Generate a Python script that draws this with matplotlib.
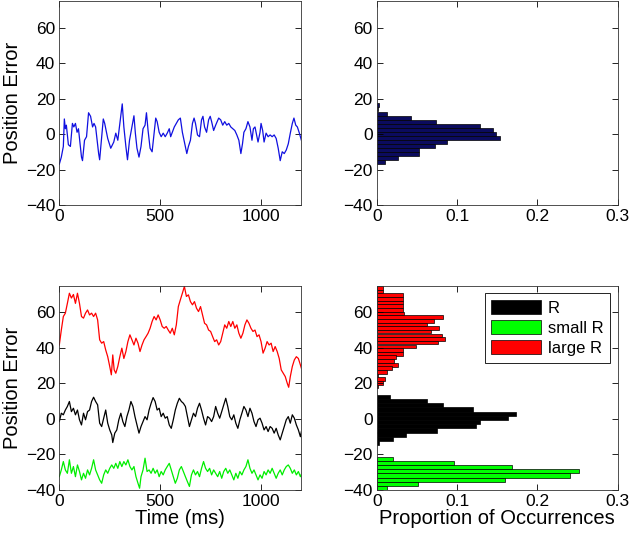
import numpy as np
import matplotlib
matplotlib.use('Agg')
import matplotlib.pyplot as plt
from matplotlib.patches import Patch

plt.rcParams['font.family'] = ['Liberation Sans', 'DejaVu Sans']

# ---- top row: single trace and its histogram ----
blue_t = [0, 10, 20, 25, 30, 35, 45, 55, 65, 72, 80, 88, 95, 110, 115, 125, 135, 145, 155, 165,
          172, 180, 195, 200, 210, 218, 225, 240, 255, 270, 280, 290, 300, 312, 320, 330, 338, 348,
          360, 370, 377, 385, 395, 405, 415, 425, 432, 440, 450, 460, 470, 478, 485, 495, 505, 515,
          525, 535, 545, 552, 560, 570, 580, 590, 600, 610, 625, 632, 640, 650, 660, 668, 675, 685,
          695, 705, 712, 720, 730, 740, 748, 755, 765, 775, 790, 800, 810, 820, 830, 840, 850, 860,
          870, 880, 890, 900, 908, 915, 925, 935, 945, 955, 962, 970, 978, 985, 995, 1000, 1008,
          1015, 1025, 1035, 1045, 1055, 1065, 1075, 1085, 1095, 1105, 1115, 1125, 1135, 1145, 1155,
          1163, 1172, 1180, 1190, 1200]
blue_y = [-17, -13, -7, 8.5, 3, 5, -6, -7, 6, 4, 6, 1, 3, -13, -15, -3.5, -1.5, 12, 10, 4,
          6, 4, -11, -14.5, -1.5, 8.5, 6, -2.5, -8, -4.5, 0.5, -3.5, 6, 17, 4, -7, -14.5, -3.5,
          4, 10.3, 0.5, -8, -13, -7, 3, 5, 12, 2, -8, -10, 0.5, 9, 7, 1, -1.5, 0.5,
          -1.5, 0.5, 3, -1.5, 1, 4, 6, 8, 9, 1, -7, -11, -7, -3.5, 6, 9, 6, -0.5,
          -1.5, 8, 10, 4, 1, 8, 10, 7, 2, 5, 9, 8, 5, 7, 5, 6, 4, 3,
          2, -0.5, -3.5, -11, -5.5, 1, 3, 7, 4, -3.5, 3, 4, -0.5, -4.5, 1, 6, 2,
          -4.5, 0.5, -1.5, -0.5, -1.5, -0.5, -2.5, -8, -15, -10, -11, -9, -5.5, 0.5, 6,
          9, 5, 4, 0.5, -3.5]

navy_centers = [16.2, 14.0, 11.5, 9.3, 7.0, 4.7, 2.5, 0.2, -2.0, -4.3, -6.8, -9.2, -11.3, -13.5, -15.7]
navy_prop = [0.003, 0.001, 0.0125, 0.0425, 0.074, 0.128, 0.145, 0.149, 0.154, 0.0875, 0.073,
             0.053, 0.053, 0.026, 0.010]

# ---- bottom row: three conditions ----
red_t = [0, 10, 20, 30, 40, 50, 60, 70, 80, 90, 100, 110, 120, 130, 140, 150, 160, 170, 180, 190,
         200, 210, 220, 230, 240, 250, 258, 265, 272, 280, 290, 300, 310, 320, 330, 340, 350, 360,
         370, 380, 390, 400, 410, 420, 430, 440, 450, 460, 470, 480, 490, 500, 510, 520, 530, 540,
         550, 560, 570, 580, 590, 600, 610, 620, 630, 640, 650, 660, 670, 680, 690, 700, 710, 720,
         730, 740, 750, 760, 770, 780, 790, 800, 810, 820, 830, 840, 850, 860, 870, 880, 890, 900,
         910, 920, 930, 940, 950, 960, 970, 980, 990, 1000, 1010, 1020, 1030, 1040, 1050, 1060,
         1070, 1080, 1090, 1100, 1110, 1120, 1130, 1137, 1145, 1155, 1165, 1175, 1185, 1195, 1200]
red_y = [41.6, 50, 57.6, 59.5, 65, 70.7, 68, 70, 65, 70.7, 65, 57.6, 56.7, 59.5, 61.3, 58.5, 59.5,
         57.6, 59.5, 55.7, 44.5, 42.6, 43.5, 38.8, 35, 29.5, 24.8, 36, 27.6, 25.7, 29.5, 35, 39.8,
         34, 37.9, 43.5, 47.3, 44.5, 41.6, 45.4, 42.6, 37.9, 41.6, 44.5, 46.3, 48.2, 51, 54.8,
         57.6, 55.7, 58.5, 55.7, 52, 51, 52, 50, 48.2, 51, 47.3, 52.9, 63.2, 67, 70.7, 74.5, 68.9,
         69.8, 66, 64.2, 66, 62.3, 60.4, 63.2, 58.5, 53.8, 52.9, 50, 49.2, 46.3, 43.5, 44.5, 41.6,
         43.5, 48.2, 52.9, 51, 54.8, 52, 54.8, 51, 52.9, 48.2, 45.4, 48.2, 52.9, 55.7, 53.8, 51,
         49.2, 50, 46.3, 47.3, 43.5, 37, 39.8, 43.5, 41.6, 42.6, 37.9, 40.7, 37.9, 34, 27.6, 25.7,
         23.8, 20, 17.8, 23.8, 29.5, 33.2, 35, 34, 30.4, 28.5]

black_t = [0, 10, 20, 30, 40, 50, 60, 70, 80, 90, 100, 110, 120, 130, 140, 150, 160, 170, 180, 190,
           200, 210, 220, 230, 240, 250, 260, 265, 275, 285, 295, 305, 315, 325, 335, 345, 355,
           365, 375, 385, 395, 405, 415, 425, 435, 445, 455, 465, 475, 485, 495, 505, 515, 525,
           535, 545, 555, 565, 575, 585, 595, 605, 615, 625, 635, 645, 655, 665, 675, 685, 695,
           705, 715, 725, 735, 745, 755, 765, 775, 785, 795, 805, 815, 825, 835, 845, 855, 865,
           875, 885, 895, 905, 915, 925, 935, 945, 955, 965, 975, 985, 995, 1005, 1015, 1025,
           1035, 1045, 1055, 1065, 1075, 1085, 1095, 1105, 1115, 1125, 1135, 1145, 1155, 1165,
           1175, 1185, 1195, 1200]
black_y = [-1.5, 3.2, 2.3, 5, 7, 9.8, 4.1, 6, 2.3, 5, -0.5, -3.4, 3.2, -0.5, 4.1, 5, 9.8, 12.2,
           9.8, 7.9, -2.4, -4.3, 0.4, 5, -2.4, -6.2, -9, -13.3, -8, -6.2, -0.5, 3.2, -1.5, -4.3,
           1.3, 5, 9.8, 7, 1.3, -3.4, -8, -4.3, -1.5, 1.3, -0.5, 5, 8.8, 12, 9.8, 5, 6, 1.3, 3.2,
           0.4, 1.3, -3.4, -5.3, -0.5, 5, 8.8, 11.6, 9.8, 8.8, 7, 1.3, -4.3, -0.5, 3.2, 1.3, 6,
           8.8, 5, 0.4, -3.4, 1.3, 0.4, -1.5, 1.3, 7, 3.2, 0.4, 4.1, 7.9, 11.6, 7, 1.3, -0.5, 2.3,
           -2.4, -5.3, -0.5, 3.2, 7, 5, 1.3, 6, 3.2, -1.5, -4.3, -0.5, 0.4, -2.4, -6.2, -4.3,
           -7.1, -4.3, -5.3, -8, -5.3, -9, -11.8, -8, -4.3, -0.5, 1.3, -2.4, 2.3, 0.4, -3.4, -6.2,
           -10, -7.1]

green_t = [0, 10, 20, 30, 40, 50, 60, 70, 80, 90, 100, 110, 120, 130, 140, 150, 160, 170, 180, 190,
           200, 210, 220, 230, 240, 250, 260, 270, 280, 290, 300, 310, 320, 330, 340, 350, 360,
           370, 380, 390, 398, 405, 415, 425, 435, 445, 455, 465, 475, 485, 495, 505, 515, 525,
           535, 545, 555, 565, 575, 585, 595, 605, 615, 625, 635, 645, 655, 665, 675, 685, 695,
           705, 715, 725, 735, 745, 755, 765, 775, 785, 795, 805, 815, 825, 835, 845, 855, 865,
           875, 885, 895, 905, 915, 925, 935, 945, 955, 965, 975, 985, 995, 1005, 1015, 1025,
           1035, 1045, 1055, 1065, 1075, 1085, 1095, 1105, 1115, 1125, 1135, 1145, 1155, 1165,
           1175, 1185, 1195, 1200]
green_y = [-32.5, -28.7, -24, -28.7, -30.6, -23, -30.6, -26.8, -32.5, -25.9, -29.6, -34.3, -30.6,
           -33.4, -28.7, -31.5, -27.8, -23, -28.7, -31.5, -34.3, -36.2, -31.5, -28.7, -30.6,
           -27.8, -25.9, -27.8, -25, -27.8, -24, -26.8, -24, -25.9, -23, -26.8, -28.7, -26.8,
           -32.5, -36.2, -39, -32.5, -28.7, -22.1, -29.6, -28.7, -30.6, -27.8, -30.6, -28.7,
           -32.5, -29.6, -31.5, -28.7, -26.8, -25, -28.7, -32.5, -36.2, -33.4, -28.7, -26.8,
           -29.6, -32.5, -35.3, -38, -31.5, -28.7, -31.5, -29.6, -32.5, -27.8, -24, -27.8, -29.6,
           -27.8, -31.5, -28.7, -30.6, -32.5, -29.6, -33.4, -29.6, -27.8, -30.6, -28.7, -31.5,
           -34.3, -30.6, -33.4, -29.6, -31.5, -28.7, -26.8, -23, -27.8, -30.6, -28.7, -31.5,
           -34.3, -31.5, -33.4, -29.6, -31.5, -28.7, -30.6, -27.8, -30.6, -33.4, -30.6, -28.7,
           -31.5, -28.7, -26.8, -25.9, -27.8, -30.6, -28.7, -31.5, -29.6, -32.5, -31]

black_centers = [12.3, 10.0, 7.6, 5.3, 2.9, 0.6, -1.8, -4.1, -6.5, -8.8, -11.2, -13.5]
black_prop = [0.017, 0.063, 0.083, 0.12, 0.173, 0.163, 0.129, 0.124, 0.075, 0.037, 0.02, 0.003]

green_centers = [-22.5, -24.8, -27.2, -29.5, -31.8, -34.2, -36.5, -38.8]
green_prop = [0.02, 0.096, 0.169, 0.252, 0.241, 0.16, 0.052, 0.013]

red_centers = [73.8, 71.7, 69.6, 67.6, 65.5, 63.5, 61.4, 59.3, 57.3, 55.2, 53.2, 51.1, 49.1, 47.0,
               44.9, 42.9, 40.8, 38.8, 36.7, 34.7, 32.6, 30.5, 28.5, 26.4, 24.4, 22.3, 20.3, 18.2]
red_prop = [0.0075, 0.008, 0.0325, 0.033, 0.0325, 0.0325, 0.033, 0.034, 0.083, 0.071, 0.0625,
            0.077, 0.067, 0.081, 0.085, 0.076, 0.049, 0.033, 0.033, 0.024, 0.021, 0.027, 0.019,
            0.013, 0.002, 0.010, 0.008, 0.002]

legend_labels = ['R', 'small R', 'large R']

W, H = 629, 537
fig = plt.figure(figsize=(W / 100, H / 100), dpi=100)


def box(x0, y0, x1, y1):
    # pixel box (top-left origin) -> figure fraction
    return [x0 / W, 1 - y1 / H, (x1 - x0) / W, (y1 - y0) / H]


def style(ax):
    ax.set_ylim(-40, 75)
    ax.set_yticks([-40, -20, 0, 20, 40, 60])
    ax.tick_params(direction='in', top=True, right=True, length=4, width=0.6,
                   labelsize=12.5, pad=3)
    for s in ax.spines.values():
        s.set_linewidth(0.6)
        s.set_color('#333333')


ax1 = fig.add_axes(box(59.3, 1, 301.4, 205))
ax2 = fig.add_axes(box(376.7, 1, 617.7, 205))
ax3 = fig.add_axes(box(59.3, 285.6, 301.4, 490))
ax4 = fig.add_axes(box(376.7, 285.6, 617.7, 490))

ax1.plot(blue_t, blue_y, color='#1010e0', lw=0.9)
ax3.plot(red_t, red_y, color='#ff0000', lw=0.9)
ax3.plot(black_t, black_y, color='black', lw=0.9)
ax3.plot(green_t, green_y, color='#00ee00', lw=0.9)
for ax in (ax1, ax3):
    style(ax)
    ax.set_xlim(0, 1200)
    ax.set_xticks([0, 500, 1000])
    ax.set_ylabel('Position Error', fontsize=14.5, labelpad=3)
ax3.set_xlabel('Time (ms)', fontsize=14.5, labelpad=0)

ax2.barh(navy_centers, navy_prop, height=2.28, color='#0b0b5e', edgecolor='black', lw=0.5)
ax4.barh(black_centers, black_prop, height=2.35, color='black', edgecolor='black', lw=0.5)
ax4.barh(green_centers, green_prop, height=2.34, color='#00ff00', edgecolor='black', lw=0.5)
ax4.barh(red_centers, red_prop, height=2.06, color='#ff0000', edgecolor='black', lw=0.5)
for ax in (ax2, ax4):
    style(ax)
    ax.set_xlim(0, 0.3)
    ax.set_xticks([0, 0.1, 0.2, 0.3])
    ax.set_xticklabels(['0', '0.1', '0.2', '0.3'])
ax4.set_xlabel('Proportion of Occurrences', fontsize=14.5, labelpad=0)

handles = [Patch(facecolor=c, edgecolor='black', lw=0.5) for c in ('black', '#00ff00', '#ff0000')]
leg = ax4.legend(handles, legend_labels, loc='upper right', fontsize=12, handlelength=3.0,
                 handleheight=0.95, fancybox=False, framealpha=1, borderaxespad=0.45,
                 borderpad=0.4, labelspacing=0.25, handletextpad=0.4)
leg.get_frame().set_edgecolor('black')
leg.get_frame().set_linewidth(0.6)

fig.savefig('out.png', dpi=100)
